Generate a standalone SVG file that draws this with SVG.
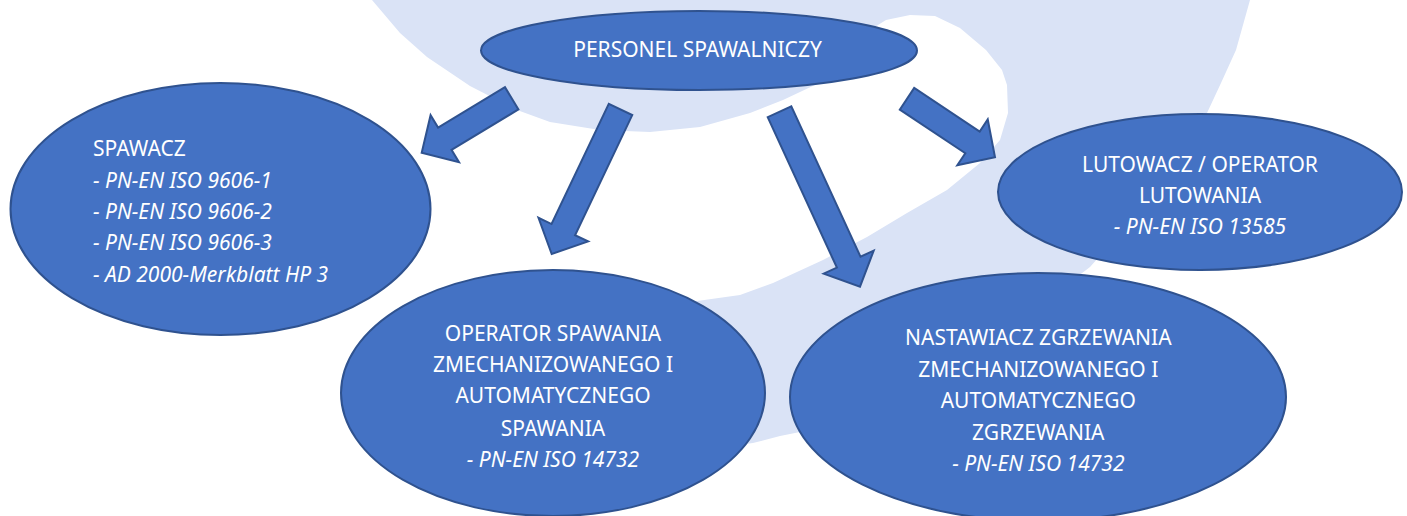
<svg xmlns="http://www.w3.org/2000/svg" width="1407" height="516" viewBox="0 0 1407 516">
<style>
.bg{fill:#dae3f6;stroke:none}
.node{fill:#4472c4;stroke:#2f528f;stroke-width:2}
.arrow{fill:#4472c4;stroke:#2f528f;stroke-width:2;stroke-linejoin:miter}
.t{font-family:"Noto Sans","Open Sans","DejaVu Sans",sans-serif;font-size:21px;fill:#ffffff}
.c{text-anchor:middle}
.i{font-style:italic}
</style>
<rect width="1407" height="516" fill="#ffffff"/>
<path class="bg" d="M372,0 L1250,0 L1236,50 L1221,83 L1207,113 L1150,200 L1090,267 L1073,280 L1000,330 L900,390 L800,432 L780,436 L753,443 L700,450 L650,360 L690,302 L740,295 L773,283 L823,260 L867,237 L907,213 L947,190 L980,163 L1000,140 L1008,113 L1007,85 L1002,70 L986,50 L960,28 L935,16 L910,15 L886,20 L870,30 L840,60 L825,80 L817,84 L783,100 L750,113 L700,127 L650,132 L600,130 L550,122 L517,110 L470,86 L427,57 L400,33 Z"/>
<g id="connectors">
<polygon class="arrow" points="504.98,87.18 438.08,127.58 430.58,115.17 421.7,152.7 459.02,162.23 451.52,149.82 518.42,109.42"/>
<polygon class="arrow" points="608.76,103.91 551.57,224.03 538.47,217.79 551.7,254 588.15,241.45 575.05,235.21 632.24,115.09"/>
<polygon class="arrow" points="767.69,117.13 836.9,267.6 823.72,273.67 860,286.7 873.7,250.67 860.52,256.74 791.31,106.27"/>
<polygon class="arrow" points="899.8,109.62 965.32,153.18 957.3,165.26 995,157.3 987.74,119.46 979.72,131.54 914.2,87.98"/>
</g>
<g id="personel">
<ellipse class="node" cx="699" cy="50.5" rx="218" ry="39.5"/>
<text class="t c" x="697.5" y="57.3">PERSONEL SPAWALNICZY</text>
</g>
<g id="spawacz">
<ellipse class="node" cx="220.5" cy="209" rx="210" ry="126"/>
<text class="t" x="93" y="156">SPAWACZ</text>
<text class="t i" x="93" y="187.5">- PN-EN ISO 9606-1</text>
<text class="t i" x="93" y="218.5">- PN-EN ISO 9606-2</text>
<text class="t i" x="93" y="250">- PN-EN ISO 9606-3</text>
<text class="t i" x="93" y="281.5">- AD 2000-Merkblatt HP 3</text>
</g>
<g id="lutowacz">
<ellipse class="node" cx="1200" cy="192" rx="202" ry="78"/>
<text class="t c" x="1200" y="172.3">LUTOWACZ / OPERATOR</text>
<text class="t c" x="1200" y="202.7">LUTOWANIA</text>
<text class="t c i" x="1200" y="234.3">- PN-EN ISO 13585</text>
</g>
<g id="operator">
<ellipse class="node" cx="553" cy="393" rx="212" ry="123"/>
<text class="t c" x="553" y="341">OPERATOR SPAWANIA</text>
<text class="t c" x="553" y="371.7">ZMECHANIZOWANEGO I</text>
<text class="t c" x="553" y="403.3">AUTOMATYCZNEGO</text>
<text class="t c" x="553" y="435.7">SPAWANIA</text>
<text class="t c i" x="553" y="466.7">- PN-EN ISO 14732</text>
</g>
<g id="nastawiacz">
<ellipse class="node" cx="1038" cy="397" rx="248" ry="124"/>
<text class="t c" x="1038.3" y="345">NASTAWIACZ ZGRZEWANIA</text>
<text class="t c" x="1038.3" y="376.7">ZMECHANIZOWANEGO I</text>
<text class="t c" x="1038.3" y="408.3">AUTOMATYCZNEGO</text>
<text class="t c" x="1038.3" y="440">ZGRZEWANIA</text>
<text class="t c i" x="1038.3" y="471">- PN-EN ISO 14732</text>
</g>
</svg>
